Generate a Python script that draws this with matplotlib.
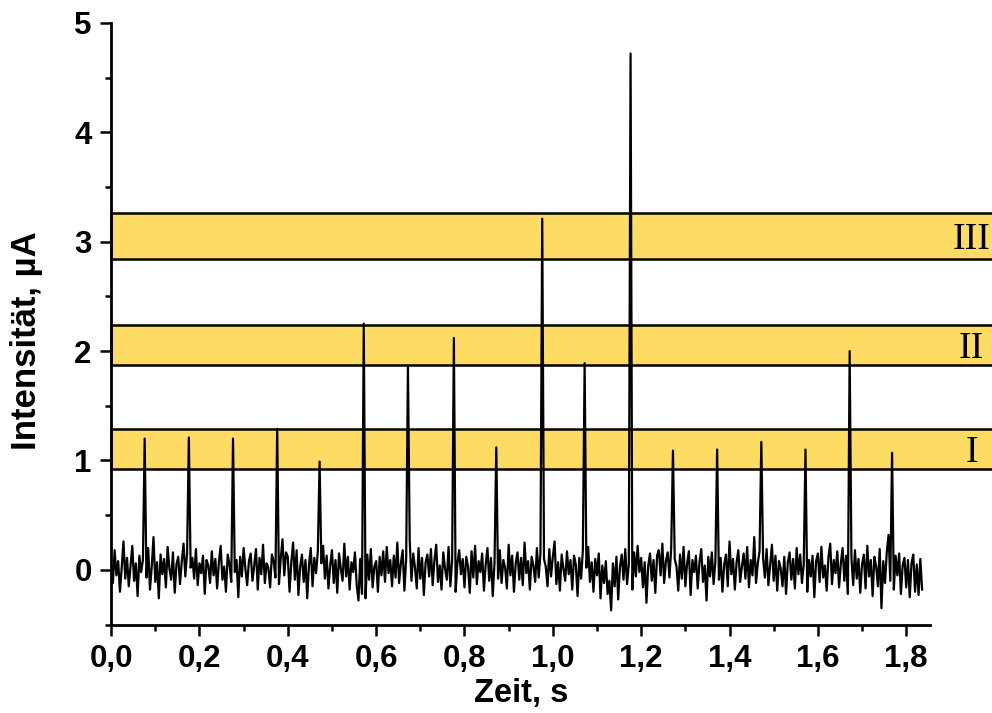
import numpy as np
import matplotlib.pyplot as plt
from matplotlib.patches import Rectangle
from matplotlib.ticker import MultipleLocator, FuncFormatter

# Grundrauschen, Abtastung alle 4 ms
dt = 0.004
noise = [
    0.05, -0.12, 0.18, -0.05, 0.08, -0.20, 0.02, 0.26, -0.08, 0.11, -0.15, 0.04, 0.22, -0.10, 0.06, -0.24, 0.13, -0.02, 0.09, 0.17,
    -0.07, 0.20, -0.18, 0.03, 0.30, -0.11, 0.07, -0.26, 0.14, -0.04, 0.10, -0.16, 0.21, 0.01, -0.09, 0.16, -0.21, 0.05, 0.12, -0.13,
    0.08, 0.24, -0.06, 0.15, -0.19, 0.02, 0.11, -0.08, 0.19, -0.14, 0.06, -0.03, 0.13, -0.22, 0.09, 0.04, -0.12, 0.17, -0.05, 0.10,
    -0.17, 0.07, 0.22, -0.09, 0.03, -0.20, 0.14, 0.05, -0.11, 0.18, -0.02, 0.09, -0.25, 0.12, -0.06, 0.20, 0.01, -0.14, 0.08, 0.15,
    -0.10, 0.04, 0.19, -0.18, 0.11, -0.04, 0.23, -0.12, 0.06, 0.02, -0.16, 0.14, 0.08, -0.07, 0.21, -0.13, 0.10, 0.28, -0.05, 0.16,
    0.12, -0.20, 0.07, 0.25, -0.09, 0.18, -0.23, 0.03, 0.14, -0.11, 0.09, -0.26, 0.05, 0.20, -0.15, 0.11, -0.03, 0.17, -0.19, 0.06,
    0.22, -0.08, 0.13, -0.17, 0.04, 0.18, -0.12, 0.09, -0.21, 0.15, 0.01, -0.10, 0.24, -0.06, 0.12, -0.18, 0.07, -0.02, 0.16, -0.14,
    -0.28, 0.10, -0.22, 0.05, -0.26, 0.14, -0.09, 0.19, -0.16, 0.03, 0.08, -0.20, 0.12, -0.05, 0.17, -0.11, 0.21, -0.03, 0.09, -0.15,
    0.13, -0.07, 0.25, -0.12, 0.06, 0.18, -0.19, 0.10, -0.04, 0.27, -0.10, 0.15, 0.02, -0.17, 0.20, -0.08, 0.11, -0.23, 0.07, 0.14,
    -0.06, 0.19, -0.14, 0.09, 0.23, -0.11, 0.04, -0.18, 0.16, 0.01, -0.09, 0.21, -0.15, 0.08, 0.13, -0.20, 0.06, 0.18, -0.04, 0.10,
    -0.16, 0.12, 0.03, -0.21, 0.17, -0.07, 0.22, -0.13, 0.08, -0.02, 0.15, -0.19, 0.05, 0.20, -0.10, 0.11, -0.24, 0.07, 0.14, -0.08,
    0.18, -0.12, 0.09, 0.02, -0.17, 0.23, -0.05, 0.13, -0.20, 0.06, 0.16, -0.09, 0.11, -0.14, 0.25, -0.03, 0.08, -0.18, 0.12, 0.04,
    -0.11, 0.20, -0.07, 0.15, -0.22, 0.10, 0.03, -0.15, 0.19, -0.06, 0.12, 0.26, -0.13, 0.07, -0.19, 0.14, 0.01, -0.10, 0.17, -0.04,
    0.09, -0.18, 0.13, 0.05, -0.24, 0.11, -0.08, 0.18, -0.14, 0.02, 0.21, -0.11, 0.07, -0.20, 0.10, -0.05, 0.15, -0.26, 0.04, -0.12,
    0.08, -0.22, -0.10, -0.37, 0.06, -0.15, 0.12, -0.27, 0.03, 0.14, -0.09, 0.19, -0.13, 0.05, 0.10, -0.18, 0.16, -0.06, 0.22, -0.02,
    0.11, -0.16, 0.07, -0.30, 0.04, 0.15, -0.10, 0.09, -0.21, 0.13, 0.18, -0.05, 0.24, -0.12, 0.08, 0.16, -0.07, 0.20, -0.14, 0.10,
    0.03, -0.19, 0.14, -0.08, 0.21, -0.15, 0.06, 0.17, -0.23, 0.09, -0.02, 0.13, -0.17, 0.07, 0.19, -0.11, 0.04, -0.28, 0.12, -0.06,
    0.16, -0.13, 0.08, 0.22, -0.09, 0.11, -0.20, 0.05, 0.14, -0.15, 0.26, -0.04, 0.10, -0.18, 0.07, 0.18, -0.11, 0.03, 0.15, -0.08,
    0.21, -0.16, 0.09, -0.05, 0.30, -0.12, 0.06, 0.17, -0.21, 0.11, -0.07, 0.19, -0.14, 0.04, 0.23, -0.10, 0.13, -0.19, 0.08, 0.01,
    -0.15, 0.12, -0.22, 0.07, 0.16, -0.09, 0.10, -0.17, 0.20, -0.04, 0.14, -0.12, 0.05, 0.18, -0.20, 0.09, -0.06, 0.13, -0.25, 0.08,
    0.15, -0.11, 0.21, -0.07, 0.04, -0.19, 0.12, 0.24, -0.13, 0.09, -0.03, 0.17, -0.16, 0.06, 0.20, -0.10, 0.13, -0.22, 0.07, 0.11,
    -0.14, 0.18, -0.08, 0.10, -0.21, 0.05, 0.14, -0.17, 0.22, -0.06, 0.09, -0.24, 0.12, 0.03, -0.15, 0.19, -0.35, 0.08, -0.12, 0.16,
    0.32, -0.10, 0.07, -0.18, 0.13, -0.05, 0.15, -0.22, 0.04, 0.11, -0.16, 0.09, -0.25, 0.06, 0.14, -0.20, 0.05, -0.23, 0.10, -0.18,
]

# Einzelne Stromspitzen
peak_t = [0.077, 0.176, 0.275, 0.374, 0.474, 0.572, 0.673, 0.775, 0.874,
          0.974, 1.073, 1.175, 1.274, 1.373, 1.472, 1.571, 1.670, 1.767]
peak_i = [1.20, 1.21, 1.20, 1.29, 0.99, 2.25, 1.86, 2.12, 1.12,
          3.21, 1.89, 4.72, 1.09, 1.10, 1.17, 1.10, 2.00, 1.07]

# Intensitätsbereiche I, II, III
band_names = ["I", "II", "III"]
band_lo = [0.92, 1.87, 2.84]
band_hi = [1.29, 2.24, 3.26]

#%% Signal zusammensetzen
signal = np.array(noise)
t = np.arange(len(signal)) * dt
for tp, ip in zip(peak_t, peak_i):
    signal[int(round(tp / dt))] = ip

#%% Plot
plt.rcParams["font.family"] = "Liberation Sans"
plt.rcParams["font.weight"] = "bold"

fig = plt.figure(figsize=(9.92, 7.13), dpi=100)
ax = fig.add_axes([0.112, 0.124, 0.826, 0.844])

for name, lo, hi in zip(band_names, band_lo, band_hi):
    ax.add_patch(Rectangle((0, lo), 2.0, hi - lo, facecolor="#FEDC64",
                           edgecolor="black", lw=1.8, clip_on=False, zorder=1))
    ax.text(1.948, (lo + hi) / 2 - 0.12, name, ha="center", va="baseline",
            family="Liberation Serif", fontweight="normal", fontsize=27,
            clip_on=False)

ax.plot(t, signal, color="black", lw=1.6, zorder=3)

ax.set_xlim(0, 1.855)
ax.set_ylim(-0.5, 5.0)
ax.spines["top"].set_visible(False)
ax.spines["right"].set_visible(False)
for s in ("left", "bottom"):
    ax.spines[s].set_linewidth(2.0)

ax.xaxis.set_major_locator(MultipleLocator(0.2))
ax.xaxis.set_minor_locator(MultipleLocator(0.1))
ax.yaxis.set_major_locator(MultipleLocator(1))
ax.yaxis.set_minor_locator(MultipleLocator(0.5))
ax.xaxis.set_major_formatter(FuncFormatter(lambda v, p: f"{v:.1f}".replace(".", ",")))
ax.yaxis.set_major_formatter(FuncFormatter(lambda v, p: f"{v:.0f}"))
ax.tick_params(which="major", length=8, width=1.8, labelsize=22.5, pad=6)
ax.tick_params(which="minor", length=4.5, width=1.8)

ax.set_xlabel("Zeit, s", fontsize=23.5, fontweight="bold", labelpad=3)
ax.set_ylabel("Intensität, µA", fontsize=25, fontweight="bold")
ax.yaxis.set_label_coords(-0.083, 0.472)

plt.savefig("out.png", dpi=100)
